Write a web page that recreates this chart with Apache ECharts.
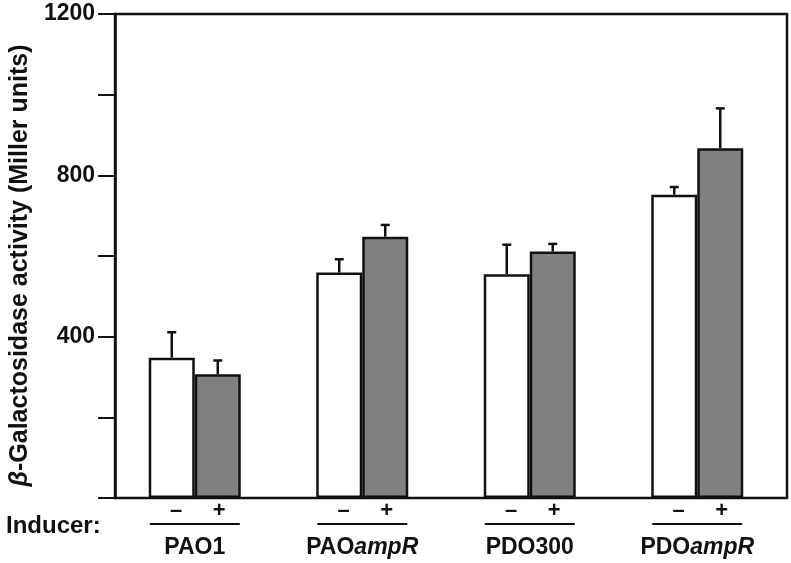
<!DOCTYPE html>
<html><head><meta charset="utf-8">
<script src="https://cdn.jsdelivr.net/npm/echarts@6/dist/echarts.min.js"></script>
<style>html,body{margin:0;padding:0;background:#fff}#c{width:791px;height:563px}</style>
</head><body><div id="c"></div>
<script>
// ---- data ----
const strains = ['PAO1', 'PAOampR', 'PDO300', 'PDOampR'];
const strainPlain = ['PAO1', 'PAO', 'PDO300', 'PDO'];
const strainItalic = ['', 'ampR', '', 'ampR'];
const uninduced = [348, 559, 555, 752];
const induced = [307, 648, 611, 867];
const uninducedErr = [63, 33, 73, 19];
const inducedErr = [34, 29, 19, 99];
const yLabels = [400, 800, 1200];
const inducerMarks = ['\u2013', '+'];

const FONT = '"Liberation Sans", Arial, Helvetica, sans-serif';
const INK = '#111';
const FS = 23;

function errSeries(name, means, errs, offset) {
  return {
    type: 'custom', name: name, xAxisIndex: 1, yAxisIndex: 1, z: 5,
    encode: { x: 0, y: [1, 2] },
    data: means.map((m, i) => [i, m, m + errs[i]]),
    renderItem: function (params, api) {
      const x = api.coord([api.value(0), 0])[0] + offset;
      const y0 = api.coord([api.value(0), api.value(1)])[1];
      const y1 = api.coord([api.value(0), api.value(2)])[1];
      return { type: 'group', children: [
        { type: 'line', shape: { x1: x, y1: y0, x2: x, y2: y1 }, style: { stroke: INK, lineWidth: 2.5 } },
        { type: 'line', shape: { x1: x - 4.5, y1: y1, x2: x + 4.5, y2: y1 }, style: { stroke: INK, lineWidth: 2.5 } }
      ]};
    }
  };
}

const chart = echarts.init(document.getElementById('c'), null, { renderer: 'canvas' });
chart.setOption({
  animation: false,
  backgroundColor: '#fff',
  textStyle: { fontFamily: FONT },
  title: {
    text: 'Inducer:', left: 6, top: 514, padding: 0,
    textStyle: { fontSize: 24, fontWeight: 'bold', color: INK, fontFamily: FONT }
  },
  grid: [
    { left: 105, right: 4, top: 14, bottom: 65, show: true, borderColor: INK, borderWidth: 2.5, backgroundColor: 'transparent' },
    { left: 111, right: 10, top: 14, bottom: 65 }
  ],
  xAxis: [
    { gridIndex: 0, type: 'value', min: 0, max: 1, show: false },
    {
      gridIndex: 1, type: 'category', data: strains,
      axisLine: { show: false }, axisTick: { show: false },
      axisLabel: {
        interval: 0, margin: 2, color: INK, fontFamily: FONT,
        formatter: function (v, i) {
          let s = '{pm|' + inducerMarks[0] + '\u00a0\u00a0\u00a0\u00a0\u00a0' + inducerMarks[1] + '}\n{ul| }\n{nm|' + strainPlain[i] + '}';
          if (strainItalic[i]) s += '{nmi|' + strainItalic[i] + '}';
          return s;
        },
        rich: {
          pm: { fontSize: 22, fontWeight: 'bold', color: INK, lineHeight: 22, padding: [0, 0, 0, 6], fontFamily: FONT },
          ul: { width: 90, height: 2, lineHeight: 4, backgroundColor: INK, fontSize: 2 },
          nm: { fontSize: FS, fontWeight: 'bold', color: INK, lineHeight: 44, fontFamily: FONT },
          nmi: { fontSize: FS, fontWeight: 'bold', fontStyle: 'italic', color: INK, lineHeight: 44, fontFamily: FONT }
        }
      }
    }
  ],
  yAxis: [
    {
      gridIndex: 0, type: 'value', min: 0, max: 1200, interval: 200,
      axisLine: { show: true, lineStyle: { color: INK, width: 2.5 } },
      axisTick: { show: true, length: 17, lineStyle: { color: INK, width: 2 } },
      splitLine: { show: false },
      axisLabel: {
        margin: 20, fontSize: FS, fontWeight: 'bold', color: INK, fontFamily: FONT,
        formatter: function (v) { return yLabels.indexOf(v) >= 0 ? String(v) : ''; }
      },
      name: '{b|\u03b2}-Galactosidase activity (Miller units)',
      nameLocation: 'middle', nameGap: 76, nameRotate: 90,
      nameTextStyle: {
        fontSize: 25, fontWeight: 'bold', color: INK, fontFamily: FONT, padding: [0, 19, 0, 0],
        rich: { b: { fontSize: 25, fontWeight: 'bold', fontStyle: 'italic', color: INK, fontFamily: FONT } }
      }
    },
    { gridIndex: 1, type: 'value', min: 0, max: 1200, show: false }
  ],
  series: [
    {
      type: 'bar', name: 'Uninduced', xAxisIndex: 1, yAxisIndex: 1, data: uninduced,
      barWidth: 46, barGap: '0%',
      itemStyle: { color: '#ffffff', borderColor: INK, borderWidth: 2.5 }
    },
    {
      type: 'bar', name: 'Induced', xAxisIndex: 1, yAxisIndex: 1, data: induced,
      barWidth: 46, barGap: '0%',
      itemStyle: { color: '#808080', borderColor: INK, borderWidth: 2.5 }
    },
    errSeries('Uninduced error', uninduced, uninducedErr, -23),
    errSeries('Induced error', induced, inducedErr, 23)
  ]
});
</script>
</body></html>
